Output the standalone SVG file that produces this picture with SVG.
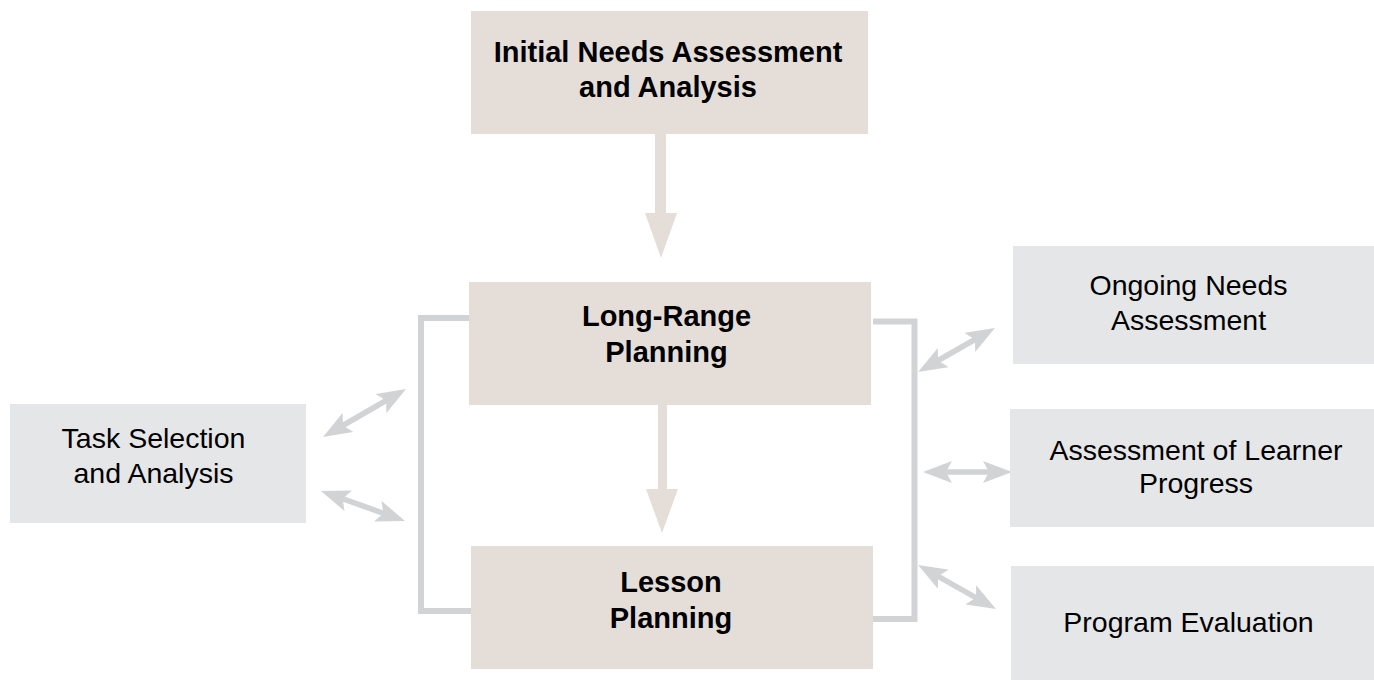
<svg xmlns="http://www.w3.org/2000/svg" width="1374" height="680" viewBox="0 0 1374 680">
<style>
.beige{fill:#e4ddd8}
.grey{fill:#e5e6e8}
.tb{font-family:"Liberation Sans",Arial,sans-serif;font-weight:bold;font-size:29px;fill:#000;text-anchor:middle}
.tr{font-family:"Liberation Sans",Arial,sans-serif;font-size:28.5px;fill:#000;text-anchor:middle}
.bracket{fill:none;stroke:#d2d3d5;stroke-width:6}
.dbl{stroke:#d2d3d5;stroke-width:5.5;fill:none;marker-start:url(#head);marker-end:url(#head)}
.big{fill:#e4ddd8}
</style>
<defs>
<marker id="head" viewBox="0 -11 29 22" refX="18" refY="0" markerWidth="29" markerHeight="22" markerUnits="userSpaceOnUse" orient="auto-start-reverse">
<path d="M0,-11 L29,0 L0,11 L6,0 Z" fill="#d2d3d5"/>
</marker>
</defs>
<rect width="1374" height="680" fill="#ffffff"/>
<g id="connectors">
<rect class="big" x="655" y="133" width="11" height="81"/>
<polygon class="big" points="645,213 677,213 661,258"/>
<rect class="big" x="658" y="404" width="9" height="86"/>
<polygon class="big" points="646,489 678,489 662,533"/>
<path class="bracket" d="M469,318 H421 V611 H471"/>
<path class="bracket" d="M873,321.5 H914.5 V619 H873"/>
<line class="dbl" x1="332.5" y1="431.5" x2="396.5" y2="394.5"/>
<line class="dbl" x1="331.3" y1="494.7" x2="394.7" y2="517.3"/>
<line class="dbl" x1="927.6" y1="366.5" x2="985.4" y2="333.5"/>
<line class="dbl" x1="934" y1="472" x2="1001" y2="472"/>
<line class="dbl" x1="927.6" y1="570.4" x2="986.4" y2="603.6"/>
</g>
<g id="initial">
<rect class="beige" x="471" y="11" width="397" height="123"/>
<text class="tb" x="668" y="62">Initial Needs Assessment</text>
<text class="tb" x="668" y="97">and Analysis</text>
</g>
<g id="longrange">
<rect class="beige" x="469" y="282" width="402" height="123"/>
<text class="tb" x="666.5" y="326">Long-Range</text>
<text class="tb" x="666.5" y="362">Planning</text>
</g>
<g id="lesson">
<rect class="beige" x="471" y="546" width="402" height="123"/>
<text class="tb" x="671" y="592">Lesson</text>
<text class="tb" x="671" y="628">Planning</text>
</g>
<g id="task">
<rect class="grey" x="10" y="404" width="296" height="119"/>
<text class="tr" x="153.5" y="448">Task Selection</text>
<text class="tr" x="153.5" y="483">and Analysis</text>
</g>
<g id="ongoing">
<rect class="grey" x="1013" y="246" width="361" height="118"/>
<text class="tr" x="1188.5" y="295">Ongoing Needs</text>
<text class="tr" x="1188.5" y="330">Assessment</text>
</g>
<g id="learner">
<rect class="grey" x="1010" y="409" width="364" height="118"/>
<text class="tr" x="1196" y="460">Assessment of Learner</text>
<text class="tr" x="1196" y="493">Progress</text>
</g>
<g id="program">
<rect class="grey" x="1011" y="566" width="363" height="114"/>
<text class="tr" x="1188.5" y="632">Program Evaluation</text>
</g>
</svg>
